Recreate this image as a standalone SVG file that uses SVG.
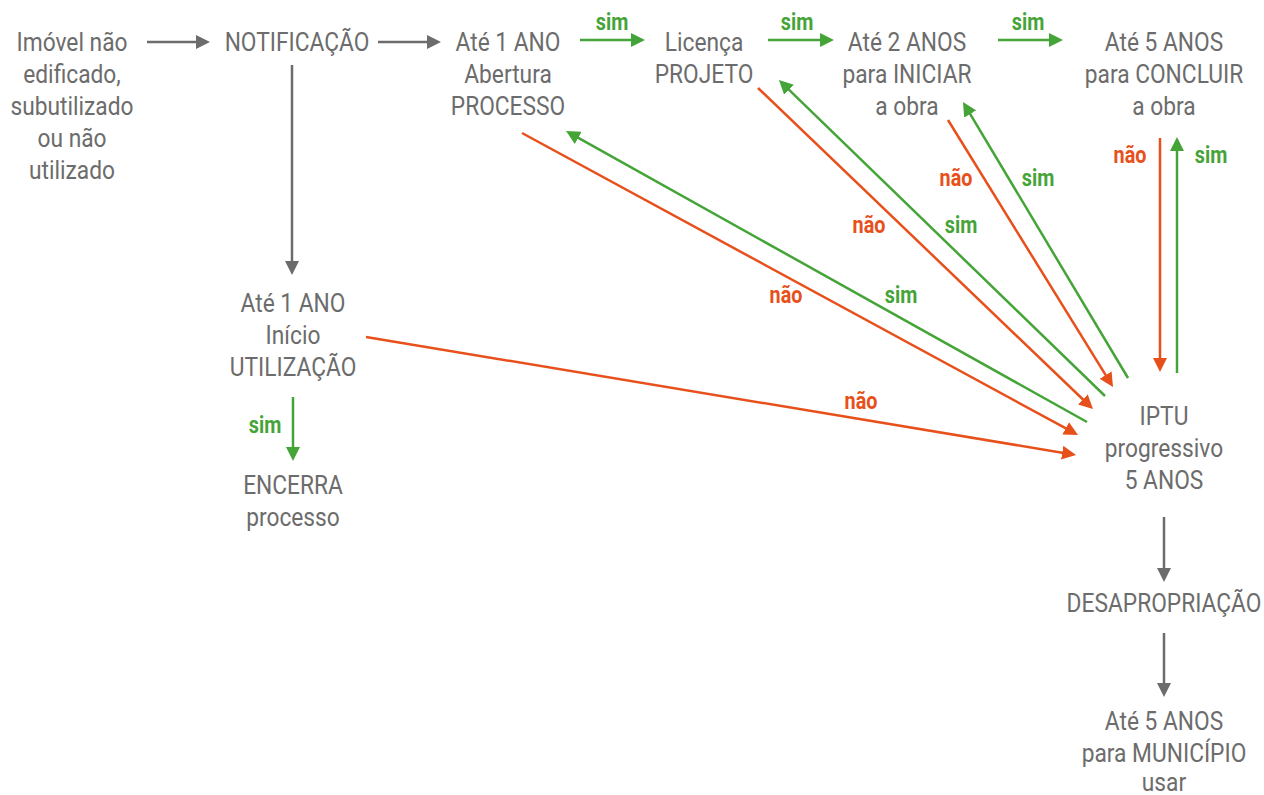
<svg xmlns="http://www.w3.org/2000/svg" width="1264" height="795" viewBox="0 0 1264 795">
<style>
.t{font-family:Roboto,"Liberation Sans",sans-serif;font-size:25px;fill:#6c6c6c;text-anchor:middle}
.l{font-family:Roboto,"Liberation Sans",sans-serif;font-size:23px;font-weight:bold;text-anchor:middle}
.lg{fill:#45a438}.lo{fill:#e8501b}
.cg{stroke:#6c6c6c;stroke-width:2.5;fill:none}
.cgr{stroke:#45a438;stroke-width:2.5;fill:none}
.co{stroke:#e8501b;stroke-width:2.5;fill:none}
</style>
<defs>
<marker id="ag" markerUnits="userSpaceOnUse" markerWidth="14" markerHeight="14" refX="6" refY="7" orient="auto"><path d="M0,0L14,7L0,14z" fill="#6c6c6c"/></marker>
<marker id="agr" markerUnits="userSpaceOnUse" markerWidth="14" markerHeight="14" refX="6" refY="7" orient="auto"><path d="M0,0L14,7L0,14z" fill="#45a438"/></marker>
<marker id="ao" markerUnits="userSpaceOnUse" markerWidth="14" markerHeight="14" refX="6" refY="7" orient="auto"><path d="M0,0L14,7L0,14z" fill="#e8501b"/></marker>
</defs>
<rect width="1264" height="795" fill="#ffffff"/>

<g id="connectors">
<line class="cg" x1="147" y1="42" x2="202" y2="42" marker-end="url(#ag)"/>
<line class="cg" x1="378" y1="42" x2="433" y2="42" marker-end="url(#ag)"/>
<line class="cg" x1="292" y1="65" x2="292" y2="267" marker-end="url(#ag)"/>
<line class="cg" x1="1164" y1="517" x2="1164" y2="574" marker-end="url(#ag)"/>
<line class="cg" x1="1164" y1="633" x2="1164" y2="689" marker-end="url(#ag)"/>

<line class="cgr" x1="580" y1="40" x2="637" y2="40" marker-end="url(#agr)"/>
<line class="cgr" x1="768" y1="40" x2="826" y2="40" marker-end="url(#agr)"/>
<line class="cgr" x1="998" y1="40" x2="1055" y2="40" marker-end="url(#agr)"/>
<line class="cgr" x1="293" y1="397" x2="293" y2="453" marker-end="url(#agr)"/>
<line class="cgr" x1="1177" y1="373" x2="1177" y2="145" marker-end="url(#agr)"/>
<line class="cgr" x1="1128" y1="378" x2="967.1" y2="108.9" marker-end="url(#agr)"/>
<line class="cgr" x1="1105" y1="396" x2="784.7" y2="85.6" marker-end="url(#agr)"/>
<line class="cgr" x1="1087" y1="422" x2="573" y2="134.9" marker-end="url(#agr)"/>

<line class="co" x1="1160" y1="138" x2="1160" y2="364" marker-end="url(#ao)"/>
<line class="co" x1="948" y1="120" x2="1108.8" y2="380.2" marker-end="url(#ao)"/>
<line class="co" x1="758" y1="88" x2="1087.2" y2="403.5" marker-end="url(#ao)"/>
<line class="co" x1="522" y1="133" x2="1071" y2="431.2" marker-end="url(#ao)"/>
<line class="co" x1="366" y1="337" x2="1068.1" y2="453.7" marker-end="url(#ao)"/>

<g transform="translate(612 30) scale(0.86 1)"><text class="l lg">sim</text></g>
<g transform="translate(797 30) scale(0.86 1)"><text class="l lg">sim</text></g>
<g transform="translate(1028 30) scale(0.86 1)"><text class="l lg">sim</text></g>
<g transform="translate(1130 163) scale(0.86 1)"><text class="l lo">não</text></g>
<g transform="translate(1211 163) scale(0.86 1)"><text class="l lg">sim</text></g>
<g transform="translate(956 186) scale(0.86 1)"><text class="l lo">não</text></g>
<g transform="translate(1038 186) scale(0.86 1)"><text class="l lg">sim</text></g>
<g transform="translate(869 233) scale(0.86 1)"><text class="l lo">não</text></g>
<g transform="translate(961 233) scale(0.86 1)"><text class="l lg">sim</text></g>
<g transform="translate(786 303) scale(0.86 1)"><text class="l lo">não</text></g>
<g transform="translate(901 303) scale(0.86 1)"><text class="l lg">sim</text></g>
<g transform="translate(861 409) scale(0.86 1)"><text class="l lo">não</text></g>
<g transform="translate(265 433) scale(0.86 1)"><text class="l lg">sim</text></g>
</g>

<g id="n-imovel" transform="translate(72 0) scale(0.91 1)"><text class="t"><tspan x="0" y="51">Imóvel não</tspan><tspan x="0" y="83">edificado,</tspan><tspan x="0" y="115">subutilizado</tspan><tspan x="0" y="147">ou não</tspan><tspan x="0" y="179">utilizado</tspan></text></g>
<g id="n-notificacao" transform="translate(297 0) scale(0.91 1)"><text class="t" x="0" y="51">NOTIFICAÇÃO</text></g>
<g id="n-abertura" transform="translate(508 0) scale(0.91 1)"><text class="t"><tspan x="0" y="51">Até 1 ANO</tspan><tspan x="0" y="83">Abertura</tspan><tspan x="0" y="115">PROCESSO</tspan></text></g>
<g id="n-licenca" transform="translate(704 0) scale(0.91 1)"><text class="t"><tspan x="0" y="51">Licença</tspan><tspan x="0" y="83">PROJETO</tspan></text></g>
<g id="n-iniciar" transform="translate(907 0) scale(0.91 1)"><text class="t"><tspan x="0" y="51">Até 2 ANOS</tspan><tspan x="0" y="83">para INICIAR</tspan><tspan x="0" y="115">a obra</tspan></text></g>
<g id="n-concluir" transform="translate(1164 0) scale(0.91 1)"><text class="t"><tspan x="0" y="51">Até 5 ANOS</tspan><tspan x="0" y="83">para CONCLUIR</tspan><tspan x="0" y="115">a obra</tspan></text></g>
<g id="n-utilizacao" transform="translate(293 0) scale(0.91 1)"><text class="t"><tspan x="0" y="312">Até 1 ANO</tspan><tspan x="0" y="344">Início</tspan><tspan x="0" y="376">UTILIZAÇÃO</tspan></text></g>
<g id="n-encerra" transform="translate(293 0) scale(0.91 1)"><text class="t"><tspan x="0" y="494">ENCERRA</tspan><tspan x="0" y="526">processo</tspan></text></g>
<g id="n-iptu" transform="translate(1164 0) scale(0.91 1)"><text class="t"><tspan x="0" y="425">IPTU</tspan><tspan x="0" y="457">progressivo</tspan><tspan x="0" y="489">5 ANOS</tspan></text></g>
<g id="n-desapropriacao" transform="translate(1164 0) scale(0.91 1)"><text class="t" x="0" y="612">DESAPROPRIAÇÃO</text></g>
<g id="n-municipio" transform="translate(1164 0) scale(0.91 1)"><text class="t"><tspan x="0" y="730">Até 5 ANOS</tspan><tspan x="0" y="762">para MUNICÍPIO</tspan><tspan x="0" y="791">usar</tspan></text></g>
</svg>
